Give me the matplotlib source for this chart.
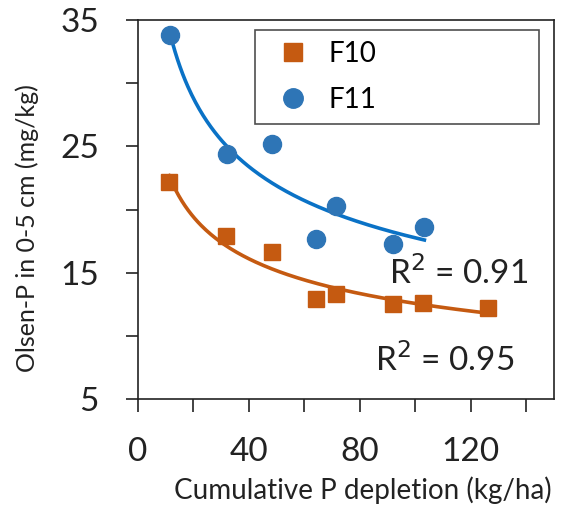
import numpy as np
import matplotlib
matplotlib.use("Agg")
import matplotlib.pyplot as plt
from matplotlib.lines import Line2D

plt.rcParams['font.family'] = ['Lato', 'DejaVu Sans']

# F10 (squares)
f10_x = [11.3, 31.8, 48.5, 64.1, 71.3, 91.9, 102.9, 126.3]
f10_y = [22.2, 17.9, 16.6, 12.9, 13.35, 12.56, 12.6, 12.2]
# F11 (circles)
f11_x = [11.6, 32.1, 48.5, 64.3, 71.3, 92.1, 103.3]
f11_y = [33.8, 24.4, 25.2, 17.7, 20.25, 17.3, 18.6]

r2_f11 = "0.91"
r2_f10 = "0.95"

orange = '#C55A11'
blue = '#2E75B6'
blue_line = '#0A72C6'
ink = '#222222'


def power_fit(x, y):
    b, loga = np.polyfit(np.log(x), np.log(y), 1)
    xs = np.linspace(min(x), max(x), 200)
    return xs, np.exp(loga) * xs ** b


fig = plt.figure(figsize=(5.61, 5.16), dpi=100)
ax = fig.add_axes([0.2455, 0.2267, 0.742, 0.7345])

xs, ys = power_fit(f10_x, f10_y)
ax.plot(xs, ys, color=orange, lw=2.6, zorder=2)
xs, ys = power_fit(f11_x, f11_y)
ax.plot(xs, ys, color=blue_line, lw=2.6, zorder=2)

ax.plot(f10_x, f10_y, 's', color=orange, ms=12, zorder=3, ls='none')
ax.plot(f11_x, f11_y, 'o', color=blue, ms=13, zorder=3, ls='none')

ax.set_xlim(0, 150)
ax.set_ylim(5, 35)
ax.set_xticks([0, 40, 80, 120])
ax.set_xticks(np.arange(0, 150, 20), minor=True)
ax.set_yticks([5, 15, 25, 35])
ax.set_yticks([10, 20, 30], minor=True)
ax.tick_params(which='both', direction='out', length=9, width=1.2,
               color=ink, labelsize=24, labelcolor=ink)
ax.tick_params(axis='x', pad=18)
ax.tick_params(axis='y', pad=19)
for s in ax.spines.values():
    s.set_linewidth(1.2)
    s.set_color(ink)

fig.text(362.5 / 561, 1 - 490 / 516, 'Cumulative P depletion (kg/ha)', fontsize=20,
         color=ink, ha='center', va='center')
fig.text(27 / 561, 1 - 228 / 516, 'Olsen-P in 0-5 cm (mg/kg)', fontsize=18,
         color=ink, ha='center', va='center', rotation=90)

ax.text(140.6, 15.0, 'R$^2$ = ' + r2_f11, fontsize=24, ha='right', va='center', color=ink)
ax.text(135.6, 8.1, 'R$^2$ = ' + r2_f10, fontsize=24, ha='right', va='center', color=ink)

handles = [Line2D([], [], marker='s', color=orange, ls='none', ms=12.5),
           Line2D([], [], marker='o', color=blue, ls='none', ms=14)]
leg = ax.legend(handles, ['F10', 'F11'], loc='upper left',
                bbox_to_anchor=(0.282, 0.733, 0.682, 0.241), mode='expand',
                borderaxespad=0, fontsize=20, frameon=True, fancybox=False,
                edgecolor=ink, handletextpad=0.3, borderpad=0.4,
                labelspacing=0.72, handlelength=1.95)
leg.get_frame().set_linewidth(1.2)

fig.savefig('out.png', dpi=100)
